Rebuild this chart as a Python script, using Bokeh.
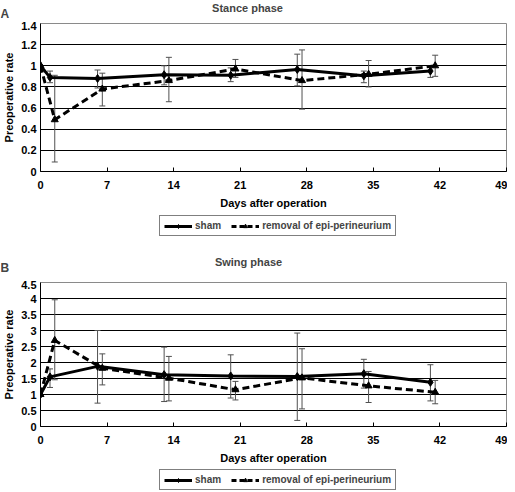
import numpy as np
from bokeh.plotting import figure
from bokeh.layouts import column, row
from bokeh.models import (ColumnDataSource, Whisker, TeeHead, Label, Legend, LegendItem,
                          FixedTicker, Range1d)
from bokeh.embed import file_html
from bokeh.resources import INLINE

# ---------------- data ----------------
days_sham = [0, 1, 6, 13, 20, 27, 34, 41]
days_removal = [0, 1.5, 6.5, 13.5, 20.5, 27.5, 34.5, 41.5]

stance_sham = [1.0, 0.89, 0.88, 0.915, 0.91, 0.965, 0.905, 0.95]
stance_sham_lo = [1.0, 0.84, 0.79, 0.82, 0.85, 0.81, 0.84, 0.89]
stance_sham_hi = [1.0, 0.95, 0.96, 1.00, 0.98, 1.11, 0.95, 1.00]
stance_removal = [1.0, 0.49, 0.78, 0.86, 0.97, 0.86, 0.92, 1.0]
stance_removal_lo = [1.0, 0.09, 0.62, 0.66, 0.89, 0.59, 0.80, 0.90]
stance_removal_hi = [1.0, 0.91, 0.93, 1.08, 1.06, 1.15, 1.05, 1.10]

swing_sham = [1.0, 1.55, 1.88, 1.62, 1.58, 1.56, 1.65, 1.38]
swing_sham_lo = [1.0, 1.22, 0.73, 0.78, 0.89, 0.19, 1.20, 0.80]
swing_sham_hi = [1.0, 1.80, 3.00, 2.48, 2.24, 2.92, 2.10, 1.93]
swing_removal = [1.0, 2.69, 1.82, 1.51, 1.15, 1.52, 1.27, 1.07]
swing_removal_lo = [1.0, 1.46, 1.30, 0.80, 0.83, 0.55, 0.75, 0.71]
swing_removal_hi = [1.0, 3.96, 2.27, 2.19, 1.41, 2.43, 1.72, 1.44]

x_ticks = [0, 7, 14, 21, 28, 35, 42, 49]
stance_ticks = [0, 0.2, 0.4, 0.6, 0.8, 1.0, 1.2, 1.4]
stance_tick_labels = ["0", "0.2", "0.4", "0.6", "0.8", "1", "1.2", "1.4"]
swing_ticks = [0, 0.5, 1.0, 1.5, 2.0, 2.5, 3.0, 3.5, 4.0, 4.5]
swing_tick_labels = ["0", "0.5", "1", "1.5", "2", "2.5", "3", "3.5", "4", "4.5"]

series_labels = ["sham", "removal of epi-perineurium"]
x_label = "Days after operation"
y_label = "Preoperative rate"

FONT = "Liberation Sans"
W = 507


def blank_fig(height):
    f = figure(width=W, height=height, output_backend="svg", toolbar_location=None,
               x_range=Range1d(0, 1), y_range=Range1d(0, 1),
               x_axis_location=None, y_axis_location=None,
               min_border=0, min_border_left=0, min_border_right=0,
               min_border_top=0, min_border_bottom=0)
    f.outline_line_color = None
    f.grid.visible = False
    f.background_fill_color = "white"
    f.border_fill_color = "white"
    return f


def header(letter, title, height, letter_y, title_x, title_y):
    h = blank_fig(height)
    h.add_layout(Label(x=0, y=letter_y, x_units="screen", y_units="screen", text=letter,
                       text_font=FONT, text_font_style="bold", text_font_size="12px",
                       text_baseline="middle", text_align="left"))
    h.add_layout(Label(x=title_x, y=title_y, x_units="screen", y_units="screen", text=title,
                       text_font=FONT, text_font_style="bold", text_font_size="11px",
                       text_baseline="middle", text_align="center"))
    return h


def legend_fig(height, ly):
    f = blank_fig(height)
    nan = np.array([np.nan])
    r1 = f.line(x=nan, y=nan, line_color="black", line_width=3)
    m1 = f.scatter(x=nan, y=nan, marker="diamond", size=8, color="black")
    r2 = f.line(x=nan, y=nan, line_color="black", line_width=3, line_dash="5 3")
    m2 = f.scatter(x=nan, y=nan, marker="triangle", size=7, color="black")
    legend = Legend(items=[LegendItem(label=series_labels[0], renderers=[r1, m1]),
                           LegendItem(label=series_labels[1], renderers=[r2, m2])],
                    orientation="horizontal", location=(159, ly),
                    border_line_color="black", border_line_width=1,
                    background_fill_color="white", background_fill_alpha=1,
                    label_text_font=FONT, label_text_font_style="bold",
                    label_text_font_size="10px", label_standoff=3,
                    glyph_width=28, glyph_height=10, label_height=10,
                    padding=4, spacing=10, margin=0)
    f.add_layout(legend)
    return f


def main_panel(sham, sham_lo, sham_hi, rem, rem_lo, rem_hi,
               yticks, ylabels, frame_h):
    top, bottom = 2, 43
    p = figure(width=W, height=top + frame_h + bottom, output_backend="svg",
               toolbar_location=None,
               x_range=Range1d(x_ticks[0], x_ticks[-1]),
               y_range=Range1d(yticks[0], yticks[-1]),
               min_border_left=32, min_border_right=1,
               min_border_top=top, min_border_bottom=bottom)
    p.background_fill_color = "white"
    p.border_fill_color = "white"
    p.outline_line_color = "#8a8a8a"
    p.outline_line_width = 1

    p.xgrid.visible = False
    p.ygrid.grid_line_color = "black"
    p.ygrid.grid_line_width = 1
    p.ygrid.grid_line_alpha = 1

    p.xaxis.ticker = FixedTicker(ticks=x_ticks)
    p.xaxis.axis_label = x_label
    p.xaxis.major_tick_in = 4
    p.xaxis.major_tick_out = 0
    p.xaxis.minor_tick_line_color = None
    p.xaxis.axis_line_color = "black"
    p.xaxis.major_label_standoff = 9
    p.xaxis.axis_label_standoff = 5

    p.yaxis.ticker = FixedTicker(ticks=yticks)
    p.yaxis.major_label_overrides = {t: l for t, l in zip(yticks, ylabels)}
    p.yaxis.axis_label = y_label
    p.yaxis.major_tick_in = 0
    p.yaxis.major_tick_out = 0
    p.yaxis.minor_tick_line_color = None
    p.yaxis.axis_line_color = "black"
    p.yaxis.major_label_standoff = 4
    p.yaxis.axis_label_standoff = 3

    for ax in (p.xaxis, p.yaxis):
        ax.major_label_text_font = FONT
        ax.major_label_text_font_style = "bold"
        ax.major_label_text_font_size = "11px"
        ax.major_label_text_color = "black"
        ax.axis_label_text_font = FONT
        ax.axis_label_text_font_style = "bold"
        ax.axis_label_text_font_size = "11px"
        ax.axis_label_text_color = "black"

    err_col = "#505050"
    for xs, lo, hi in ((days_sham, sham_lo, sham_hi), (days_removal, rem_lo, rem_hi)):
        src = ColumnDataSource(dict(x=xs[1:], lower=lo[1:], upper=hi[1:]))
        w = Whisker(source=src, base="x", lower="lower", upper="upper",
                    line_color=err_col, line_width=1,
                    upper_head=TeeHead(size=6, line_color=err_col, line_width=1),
                    lower_head=TeeHead(size=6, line_color=err_col, line_width=1))
        p.add_layout(w)

    p.line(days_removal, rem, line_color="black", line_width=3, line_dash="7 4")
    p.scatter(days_removal, rem, marker="triangle", size=7, color="black")
    p.line(days_sham, sham, line_color="black", line_width=3)
    p.scatter(days_sham, sham, marker="diamond", size=8, color="black")
    return p


hA = header("A", "Stance phase", 21, 8, 247, 14)
pA = main_panel(stance_sham, stance_sham_lo, stance_sham_hi,
                stance_removal, stance_removal_lo, stance_removal_hi,
                stance_ticks, stance_tick_labels, 148)
lA = legend_fig(24, 2)

hB = header("B", "Swing phase", 42, 13, 248, 19)
pB = main_panel(swing_sham, swing_sham_lo, swing_sham_hi,
                swing_removal, swing_removal_lo, swing_removal_hi,
                swing_ticks, swing_tick_labels, 144)
lB = legend_fig(22, 1)

layout = column(row(hA), pA, row(lA), row(hB), pB, row(lB), spacing=0)
open("out.html", "w").write(file_html(layout, INLINE))
